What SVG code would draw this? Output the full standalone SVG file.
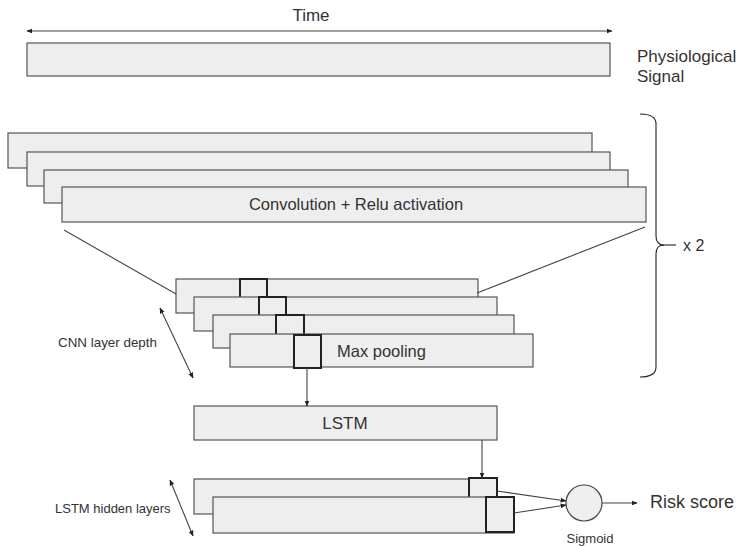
<svg xmlns="http://www.w3.org/2000/svg" width="741" height="546" viewBox="0 0 741 546">
<style>
.box{fill:#eeeeee;stroke:#555555;stroke-width:1.2}
.sq{fill:#eeeeee;stroke:#222222;stroke-width:2}
.ln{fill:none;stroke:#444444;stroke-width:1.1}
text{font-family:"Liberation Sans",Arial,sans-serif;fill:#333333}
.t17{font-size:17px}
.t16{font-size:16.5px}
.t13{font-size:13px}
</style>
<defs>
<marker id="ah" viewBox="0 0 10 10" refX="9" refY="5" markerWidth="6" markerHeight="6" orient="auto-start-reverse" markerUnits="userSpaceOnUse">
<path d="M0,1 L10,5 L0,9 z" fill="#222222"/>
</marker>
</defs>
<rect width="741" height="546" fill="#ffffff"/>

<g id="time-label"><text class="t17" x="311" y="21" text-anchor="middle">Time</text></g>
<g id="signal">
<rect class="box" x="27" y="43" width="583" height="33"/>
<text class="t17" x="637" y="62">Physiological</text>
<text class="t17" x="637" y="82">Signal</text>
</g>

<g id="conv">
<rect class="box" x="8" y="133" width="584" height="35"/>
<rect class="box" x="27" y="152" width="583" height="34"/>
<rect class="box" x="44" y="170" width="584" height="33"/>
<rect class="box" x="62" y="187" width="584" height="35"/>
<text class="t16" x="356" y="210" text-anchor="middle">Convolution + Relu activation</text>
</g>

<g id="repeat">
<path class="ln" d="M640,114 Q656,114 656,124 L656,236 Q656,245 664,245 Q656,245 656,254 L656,367 Q656,377 640,377" stroke-width="1.6" style="stroke:#222"/>
<line class="ln" x1="662" y1="245" x2="676" y2="245" style="stroke:#222" stroke-width="1.6"/>
<text x="683" y="251" style="font-size:16px">x 2</text>
</g>

<g id="maxpool">
<rect class="box" x="176" y="279" width="302" height="34"/>
<rect class="sq" x="240" y="279" width="27" height="30"/>
<rect class="box" x="194" y="297" width="303" height="34"/>
<rect class="sq" x="259" y="297" width="27" height="30"/>
<rect class="box" x="213" y="315" width="301" height="33"/>
<rect class="sq" x="276" y="315" width="28" height="30"/>
<rect class="box" x="230" y="334" width="303" height="33"/>
<rect class="sq" x="294" y="335" width="27" height="33"/>
<text class="t16" x="337" y="357">Max pooling</text>
</g>

<g id="cnn-depth">
<text x="58" y="347" style="font-size:13.4px">CNN layer depth</text>
</g>

<g id="lstm">
<rect class="box" x="194" y="406" width="303" height="34"/>
<text class="t17" x="345" y="429" text-anchor="middle">LSTM</text>
</g>

<g id="lstm-hidden">
<rect class="box" x="194" y="479" width="303" height="35"/>
<rect class="sq" x="469" y="478" width="28" height="30"/>
<rect class="box" x="213" y="497" width="301" height="36"/>
<rect class="sq" x="486" y="497" width="28" height="35"/>
<text class="t13" x="55" y="513">LSTM hidden layers</text>
</g>

<g id="sigmoid">
<circle cx="584" cy="503" r="18" fill="#eeeeee" stroke="#444444" stroke-width="1.2"/>
<text class="t13" x="590" y="543" text-anchor="middle">Sigmoid</text>
</g>

<g id="output"><text x="650" y="508" style="font-size:18px">Risk score</text></g>

<g id="connectors">
<line class="ln" x1="27" y1="31" x2="612" y2="31" marker-start="url(#ah)" marker-end="url(#ah)"/>
<line class="ln" x1="64" y1="230" x2="176" y2="294"/>
<line class="ln" x1="645" y1="227" x2="477" y2="293"/>
<line class="ln" x1="160" y1="308" x2="193" y2="378" marker-start="url(#ah)" marker-end="url(#ah)"/>
<line class="ln" x1="307" y1="368" x2="307" y2="406" marker-end="url(#ah)"/>
<line class="ln" x1="482" y1="440" x2="482" y2="478" marker-end="url(#ah)"/>
<line class="ln" x1="170" y1="480" x2="193" y2="536" marker-start="url(#ah)" marker-end="url(#ah)"/>
<line class="ln" x1="497" y1="491" x2="566" y2="501" marker-end="url(#ah)"/>
<line class="ln" x1="514" y1="513" x2="566" y2="505" marker-end="url(#ah)"/>
<line class="ln" x1="602" y1="503" x2="637" y2="503" marker-end="url(#ah)"/>
</g>
</svg>
